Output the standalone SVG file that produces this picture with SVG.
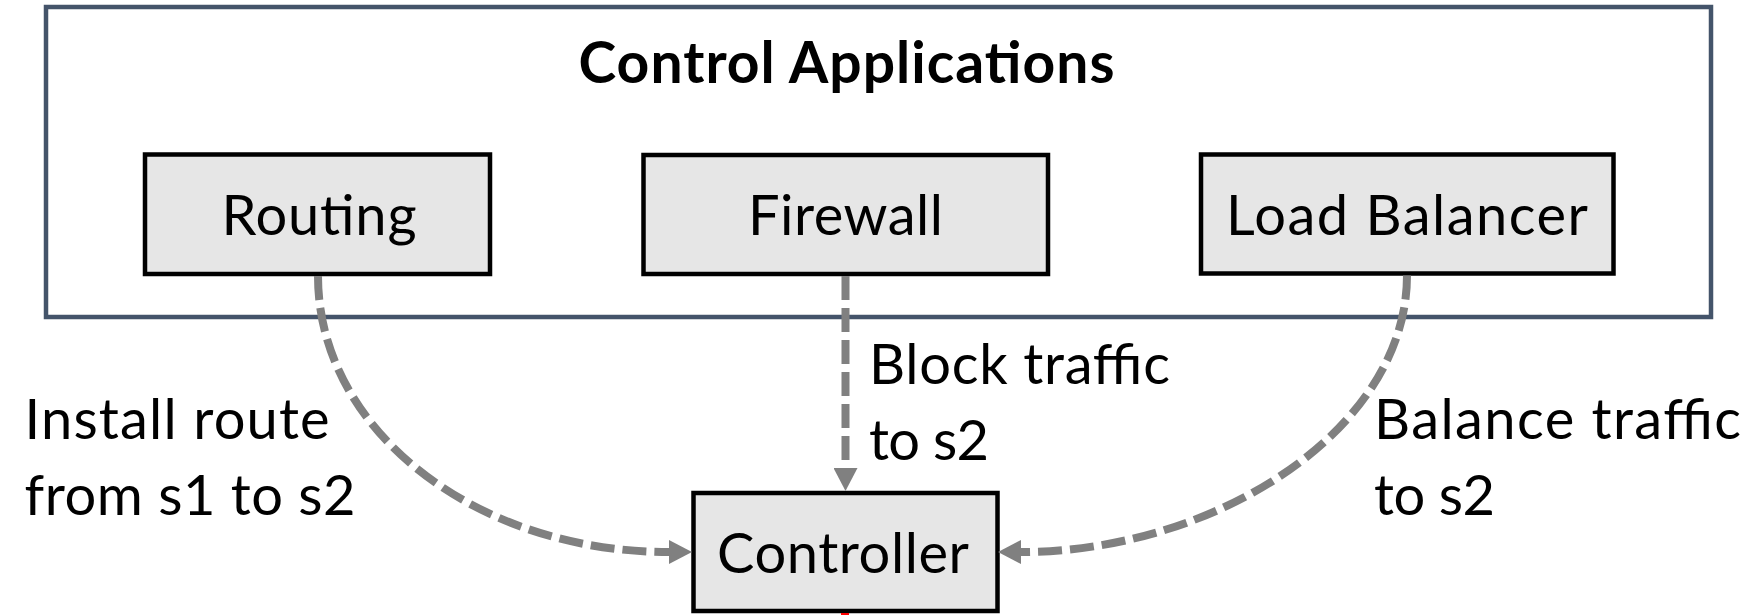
<svg xmlns="http://www.w3.org/2000/svg" width="1756" height="615" viewBox="0 0 1756 615">
  <style>
    .frame { fill: #FFFFFF; stroke: #44546A; stroke-width: 4.5; }
    .box { fill: #E6E6E6; stroke: #000000; stroke-width: 4.5; }
    .lbl { font-family: Lato, "Open Sans", "Liberation Sans", sans-serif; font-size: 56px; fill: #000000; }
    .title { font-family: Lato, "Open Sans", "Liberation Sans", sans-serif; font-size: 57px; font-weight: bold; fill: #000000; }
    .mid { text-anchor: middle; }
    .edge { fill: none; stroke: #808080; stroke-width: 8; stroke-dasharray: 24 8; }
  </style>
  <defs>
    <marker id="arrow" markerUnits="userSpaceOnUse" markerWidth="24" markerHeight="24" viewBox="0 0 23 24" refX="0" refY="12" orient="auto">
      <path d="M0,0 L23,12 L0,24 Z" fill="#808080"/>
    </marker>
  </defs>

  <g id="control-applications">
    <rect class="frame" x="46" y="7" width="1665" height="310"/>
    <text class="title mid" x="846.5" y="83" textLength="536">Control Applications</text>
  </g>

  <g id="routing">
    <rect class="box" x="145" y="154.5" width="345" height="119.5"/>
    <text class="lbl mid" x="319" y="235" textLength="195">Routing</text>
  </g>

  <g id="firewall">
    <rect class="box" x="643.5" y="155" width="404.5" height="119"/>
    <text class="lbl mid" x="845.5" y="235" textLength="195">Firewall</text>
  </g>

  <g id="load-balancer">
    <rect class="box" x="1201" y="154.5" width="412.5" height="119"/>
    <text class="lbl mid" x="1407" y="235" textLength="362">Load Balancer</text>
  </g>

  <g id="controller">
    <rect class="box" x="693.5" y="493" width="304" height="118"/>
    <text class="lbl mid" x="843" y="573" textLength="252">Controller</text>
  </g>

  <g id="connectors">
    <path class="edge" d="M318,276 C318,430 475,552 669,552" marker-end="url(#arrow)"/>
    <path class="edge" d="M845.5,276 L845.5,468" marker-end="url(#arrow)"/>
    <path class="edge" d="M1407,275.5 C1407,430 1215,552 1021,552" marker-end="url(#arrow)"/>
  </g>

  <g id="labels">
    <text class="lbl" x="24.6" y="439" textLength="305">Install route</text>
    <text class="lbl" x="24.6" y="515" textLength="331">from s1 to s2</text>
    <text class="lbl" x="869" y="384" textLength="301">Block traffic</text>
    <text class="lbl" x="869" y="460" textLength="120">to s2</text>
    <text class="lbl" x="1374" y="439" textLength="367">Balance traffic</text>
    <text class="lbl" x="1374" y="515" textLength="121">to s2</text>
  </g>

  <rect x="841" y="613" width="8" height="2" fill="#FF0000"/>
</svg>
